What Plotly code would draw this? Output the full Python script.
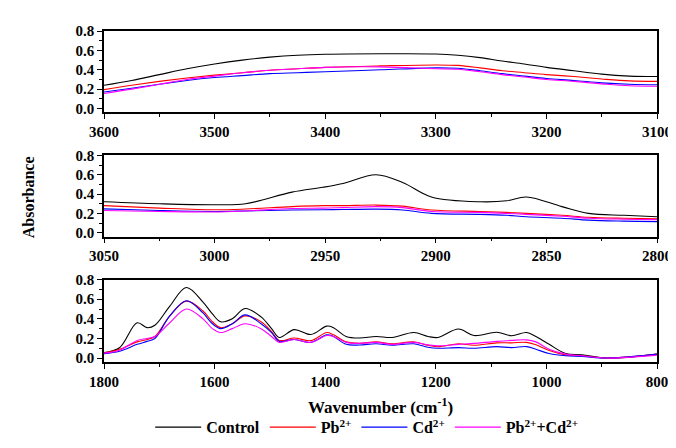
import plotly.graph_objects as go

# ---------------- data ----------------
series_names = ["Control", "Pb<sup>2+</sup>", "Cd<sup>2+</sup>", "Pb<sup>2+</sup>+Cd<sup>2+</sup>"]
series_colors = ["#000000", "#ff0000", "#0000ff", "#ff00ff"]

# Panel 1 : 3600-3100 cm-1
wn_top = [3600, 3575, 3550, 3525, 3500, 3475, 3450, 3425, 3400, 3350, 3300, 3280,
          3260, 3240, 3220, 3200, 3175, 3150, 3125, 3100]
top_control = [0.24, 0.29, 0.35, 0.41, 0.46, 0.50, 0.53, 0.55, 0.56, 0.565, 0.563, 0.55,
               0.525, 0.49, 0.46, 0.425, 0.39, 0.355, 0.335, 0.33]
top_pb = [0.195, 0.24, 0.28, 0.315, 0.345, 0.37, 0.395, 0.41, 0.425, 0.44, 0.45, 0.445,
          0.42, 0.39, 0.37, 0.35, 0.33, 0.305, 0.285, 0.28]
top_cd = [0.17, 0.21, 0.25, 0.29, 0.32, 0.34, 0.36, 0.37, 0.38, 0.40, 0.42, 0.415,
          0.39, 0.36, 0.335, 0.31, 0.29, 0.265, 0.25, 0.245]
top_pbcd = [0.155, 0.20, 0.25, 0.30, 0.335, 0.37, 0.395, 0.41, 0.425, 0.43, 0.41, 0.405,
            0.38, 0.35, 0.325, 0.30, 0.28, 0.255, 0.235, 0.23]
top_ticks = [3600, 3500, 3400, 3300, 3200, 3100]

# Panel 2 : 3050-2800 cm-1
wn_mid = [3050, 3025, 3000, 2986, 2965, 2951, 2942, 2927, 2915, 2902, 2880, 2868,
          2859, 2843, 2831, 2815, 2800]
mid_control = [0.32, 0.30, 0.29, 0.30, 0.42, 0.47, 0.51, 0.60, 0.52, 0.37, 0.32, 0.33,
               0.37, 0.27, 0.20, 0.18, 0.165]
mid_pb = [0.28, 0.255, 0.237, 0.245, 0.27, 0.28, 0.28, 0.286, 0.275, 0.235, 0.22, 0.21,
          0.20, 0.18, 0.16, 0.15, 0.145]
mid_cd = [0.247, 0.23, 0.22, 0.225, 0.235, 0.237, 0.24, 0.244, 0.235, 0.20, 0.19, 0.18,
          0.165, 0.15, 0.13, 0.12, 0.115]
mid_pbcd = [0.23, 0.22, 0.214, 0.225, 0.25, 0.254, 0.26, 0.27, 0.26, 0.22, 0.21, 0.20,
            0.19, 0.17, 0.15, 0.14, 0.135]
mid_ticks = [3050, 3000, 2950, 2900, 2850, 2800]

# Panel 3 : 1800-800 cm-1
wn_bot = [1800, 1772, 1740, 1722, 1708, 1681, 1651, 1621, 1604, 1589, 1568, 1545,
          1516, 1497, 1483, 1456, 1426, 1397, 1385, 1362, 1338, 1308, 1279, 1240,
          1214, 1196, 1159, 1131, 1090, 1063, 1036, 1019, 995, 965, 936, 889, 800]
bot_control = [0.056, 0.105, 0.36, 0.31, 0.335, 0.53, 0.72, 0.57, 0.45, 0.37, 0.40, 0.505,
               0.42, 0.30, 0.21, 0.29, 0.24, 0.326, 0.31, 0.22, 0.204, 0.22, 0.21, 0.26,
               0.22, 0.21, 0.296, 0.23, 0.263, 0.228, 0.26, 0.22, 0.14, 0.046, 0.033, 0.0, 0.04]
bot_pb = [0.05, 0.09, 0.165, 0.19, 0.22, 0.43, 0.58, 0.48, 0.37, 0.31, 0.35, 0.43,
          0.37, 0.27, 0.18, 0.204, 0.178, 0.26, 0.237, 0.165, 0.15, 0.165, 0.146, 0.165,
          0.13, 0.115, 0.146, 0.13, 0.155, 0.155, 0.16, 0.135, 0.078, 0.033, 0.023, 0.0, 0.04]
bot_cd = [0.045, 0.07, 0.14, 0.17, 0.20, 0.43, 0.585, 0.46, 0.35, 0.30, 0.35, 0.44,
          0.35, 0.26, 0.17, 0.19, 0.16, 0.237, 0.22, 0.14, 0.133, 0.146, 0.13, 0.146,
          0.11, 0.10, 0.107, 0.10, 0.117, 0.107, 0.117, 0.09, 0.046, 0.023, 0.017, 0.0, 0.04]
bot_pbcd = [0.05, 0.08, 0.18, 0.20, 0.22, 0.36, 0.50, 0.40, 0.30, 0.26, 0.30, 0.35,
            0.30, 0.22, 0.16, 0.19, 0.16, 0.23, 0.22, 0.16, 0.15, 0.16, 0.14, 0.16,
            0.135, 0.125, 0.14, 0.15, 0.17, 0.18, 0.185, 0.165, 0.09, 0.04, 0.023, 0.0, 0.03]
bot_ticks = [1800, 1600, 1400, 1200, 1000, 800]

y_tickvals = [0.0, 0.2, 0.4, 0.6, 0.8]
y_ticktext = ["0.0", "0.2", "0.4", "0.6", "0.8"]

panels = [
    (wn_top, [top_control, top_pb, top_cd, top_pbcd], [3600, 3100], top_ticks, 50),
    (wn_mid, [mid_control, mid_pb, mid_cd, mid_pbcd], [3050, 2800], mid_ticks, 25),
    (wn_bot, [bot_control, bot_pb, bot_cd, bot_pbcd], [1800, 800], bot_ticks, 100),
]

# ---------------- figure ----------------
fig = go.Figure()
FONT = "Liberation Serif, Times New Roman, serif"

for p, (wn, ys, xr, tks, mdt) in enumerate(panels):
    xa = "x" if p == 0 else f"x{p+1}"
    ya = "y" if p == 0 else f"y{p+1}"
    for i, (name, col) in enumerate(zip(series_names, series_colors)):
        fig.add_trace(go.Scatter(
            x=wn, y=ys[i], mode="lines", name=f"<b>{name}</b>",
            line=dict(color=col, width=1.1, shape="spline", smoothing=1.0),
            showlegend=(p == 0), legendrank=i, xaxis=xa, yaxis=ya,
        ))

domains = [[0.754, 1.0], [0.379, 0.624], [0.0, 0.249]]
for p, (wn, ys, xr, tks, mdt) in enumerate(panels):
    sfx = "" if p == 0 else str(p + 1)
    fig.update_layout(**{
        f"xaxis{sfx}": dict(
            domain=[0, 1], anchor=f"y{sfx}", range=xr,
            tickvals=tks, ticktext=[f"<b>{t}</b>" for t in tks],
            showgrid=False, zeroline=False, showline=True, linecolor="black", linewidth=1.5,
            mirror=True, ticks="outside", ticklen=5, tickwidth=1.2, tickcolor="black",
            minor=dict(dtick=mdt, tick0=0, ticks="outside", ticklen=3, tickcolor="black", tickwidth=1),
            tickfont=dict(family=FONT, size=15, color="black"),
        ),
        f"yaxis{sfx}": dict(
            domain=domains[p], anchor=f"x{sfx}", range=[-0.04, 0.8],
            tickvals=y_tickvals, ticktext=[f"<b>{t}</b>" for t in y_ticktext],
            showgrid=False, zeroline=False, showline=True, linecolor="black", linewidth=1.5,
            mirror=True, ticks="outside", ticklen=5, tickwidth=1.2, tickcolor="black",
            minor=dict(tickvals=[0.1, 0.3, 0.5, 0.7], ticks="outside", ticklen=3,
                       tickcolor="black", tickwidth=1),
            tickfont=dict(family=FONT, size=15, color="black"),
        ),
    })

fig.add_annotation(text="<b>Wavenumber (cm<sup>-1</sup>)</b>", xref="paper", yref="paper",
                   x=0.5, y=-0.133, xanchor="center", yanchor="middle", showarrow=False,
                   font=dict(family=FONT, size=17, color="black"))
fig.add_annotation(text="<b>Absorbance</b>", xref="paper", yref="paper",
                   x=-0.136, y=0.497, xanchor="center", yanchor="middle", showarrow=False,
                   textangle=-90, font=dict(family=FONT, size=16, color="black"))

fig.update_layout(
    width=676, height=448,
    margin=dict(l=96, r=16, t=23, b=79),
    paper_bgcolor="white", plot_bgcolor="white",
    font=dict(family=FONT, color="black"),
    legend=dict(orientation="h", x=0.475, xanchor="center", y=-0.197, yanchor="middle",
                font=dict(family=FONT, size=16, color="black"),
                itemwidth=46, traceorder="normal", bgcolor="rgba(0,0,0,0)"),
)

fig.write_html("out.html")
